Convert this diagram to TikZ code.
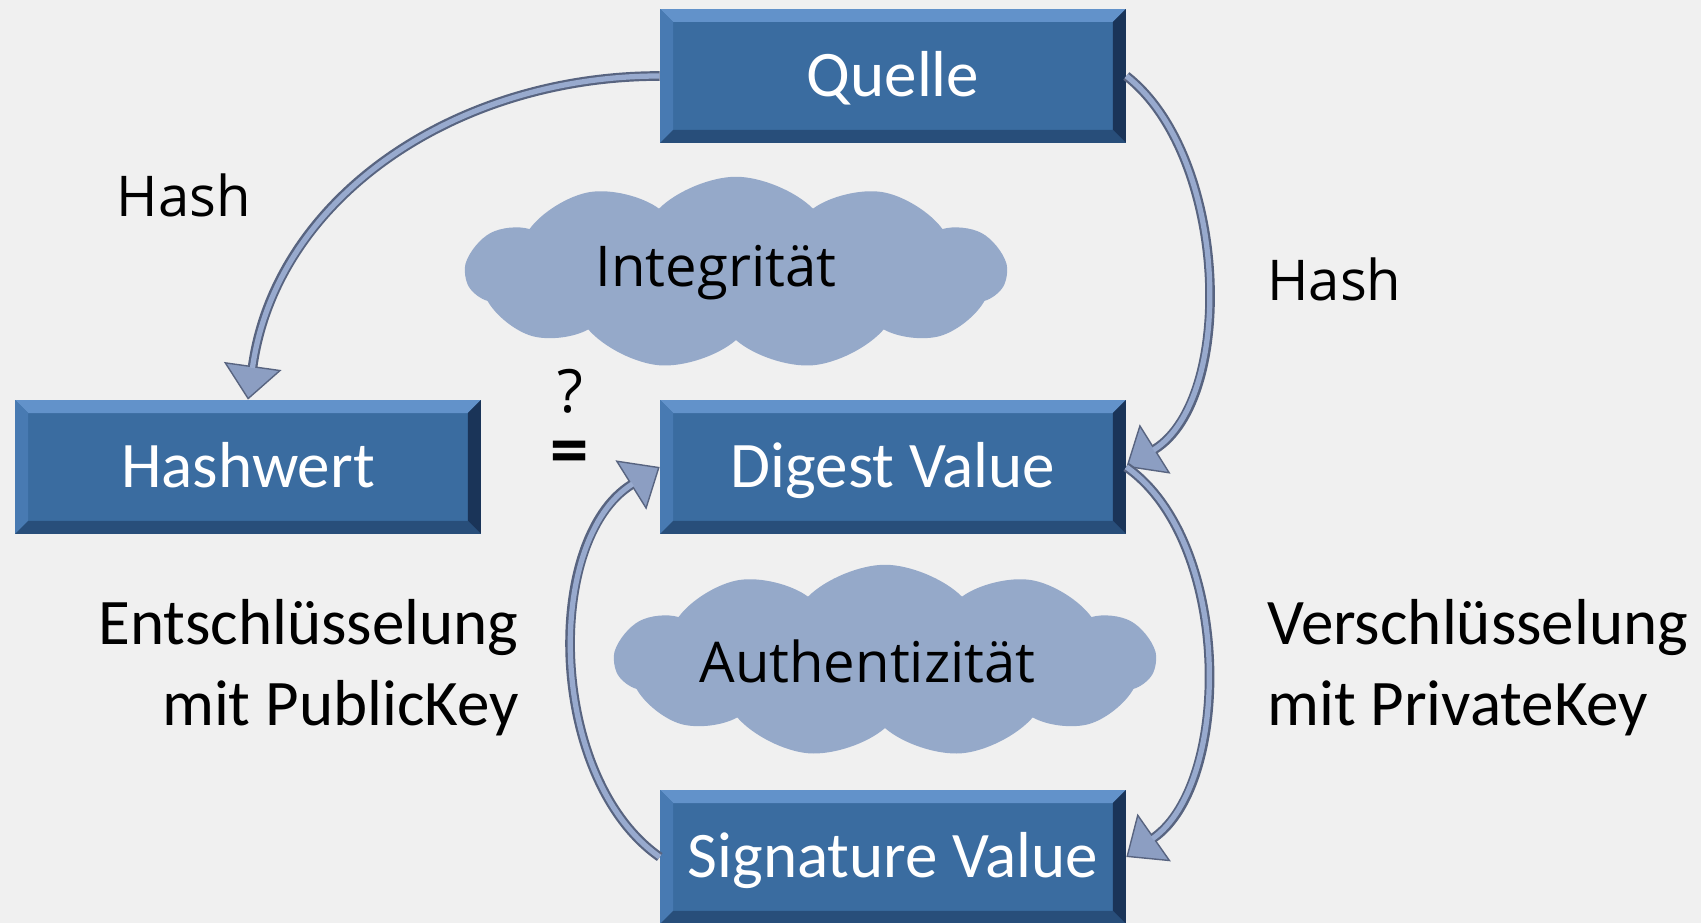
\documentclass[tikz,border=0pt]{standalone}
\usepackage{fontspec}
\setmainfont{Carlito}
\newfontfamily\segoe{Open Sans}
\usetikzlibrary{arrows.meta,shapes.symbols}

\definecolor{bg}{RGB}{240,240,240}
\definecolor{boxblue}{RGB}{58,108,160}
\definecolor{boxlight}{RGB}{98,146,202}
\definecolor{boxleft}{RGB}{72,122,178}
\definecolor{boxdark}{RGB}{26,52,88}
\definecolor{boxbottom}{RGB}{40,78,122}
\definecolor{cloudblue}{RGB}{149,169,201}
\definecolor{arrowdark}{RGB}{88,100,128}
\definecolor{arrowmid}{RGB}{140,158,194}
\definecolor{arrowlight}{RGB}{152,170,206}

\def\bw{0.26cm}

\tikzset{
  bevelbox/.style={
    fill=boxblue, text=white, inner sep=0pt,
    minimum width=9.32cm, minimum height=2.68cm,
    text height=23.8pt, text depth=0pt,
    font=\fontsize{37}{44}\selectfont,
    path picture={
      \coordinate (bsw) at (path picture bounding box.south west);
      \coordinate (bse) at (path picture bounding box.south east);
      \coordinate (bnw) at (path picture bounding box.north west);
      \coordinate (bne) at (path picture bounding box.north east);
      \fill[boxlight] (bnw) -- (bne) -- ([shift={(-\bw,-\bw)}]bne) -- ([shift={(\bw,-\bw)}]bnw) -- cycle;
      \fill[boxleft] (bnw) -- (bsw) -- ([shift={(\bw,\bw)}]bsw) -- ([shift={(\bw,-\bw)}]bnw) -- cycle;
      \fill[boxdark] (bne) -- (bse) -- ([shift={(-\bw,\bw)}]bse) -- ([shift={(-\bw,-\bw)}]bne) -- cycle;
      \fill[boxbottom] (bsw) -- (bse) -- ([shift={(-\bw,\bw)}]bse) -- ([shift={(\bw,\bw)}]bsw) -- cycle;
    }
  },
  puff/.style={
    cloud, cloud puffs=11, cloud puff arc=90, cloud ignores aspect,
    fill=cloudblue, inner sep=0pt,
    minimum width=10.8cm, minimum height=3.85cm,
    font=\segoe\fontsize{32}{40}\selectfont
  },
  label text/.style={font=\fontsize{37}{46}\selectfont, inner sep=0pt},
  flow/.style={
    draw=arrowdark, line width=5.5pt,
    -{Triangle[length=0.68cm,width=1.16cm,line width=0.8pt,fill=arrowmid,color=arrowdark]},
    postaction={draw=arrowlight, line width=3pt, -, shorten >=0.64cm}
  }
}

\begin{document}
\begin{tikzpicture}[x=0.02cm, y=0.02cm]

\useasboundingbox (0,0) rectangle (1701,923);
\fill[bg] (0,0) rectangle (1701,923);

% Clouds
\node (integ) [puff] at (736,650) {Integrität\hspace*{0.8cm}};
\node (authen) [puff] at (885,262) {Authentizität\hspace*{0.7cm}};

% Boxes
\node (quelle)    [bevelbox] at (893,847) {Quelle};
\node (hashwert)  [bevelbox] at (248,456) {Hashwert};
\node (digest)    [bevelbox] at (893,456) {Digest Value};
\node (signature) [bevelbox] at (893,66)  {Signature Value};

% Labels
\node (hashl) [inner sep=0pt, font=\segoe\fontsize{32}{40}\selectfont] at (184,728) {Hash};
\node (hashr) [inner sep=0pt, anchor=west, font=\segoe\fontsize{32}{40}\selectfont] at (1267,644) {Hash};
\node (entschl) [label text, anchor=east, align=right] at (519,255) {Entschlüsselung\\mit PublicKey};
\node (verschl) [label text, anchor=west, align=left] at (1267,255) {Verschlüsselung\\mit PrivateKey};
\node (quest) [inner sep=0pt, font=\segoe\fontsize{34}{40}\selectfont] at (570,532) {?};
\node (equal) [inner sep=0pt, font=\segoe\bfseries\fontsize{38}{40}\selectfont] at (570,465) {=};

% Edges
\draw[flow] (quelle.west) to[out=180,in=82] (hashwert.north);
\draw[flow] (quelle.east) to[out=-38,in=32,looseness=0.85] (digest.east);
\draw[flow] (digest.east) to[out=-35,in=35,looseness=0.85] (signature.east);
\draw[flow] (signature.west) to[out=145,in=212,looseness=0.9] (digest.west);

\end{tikzpicture}
\end{document}
